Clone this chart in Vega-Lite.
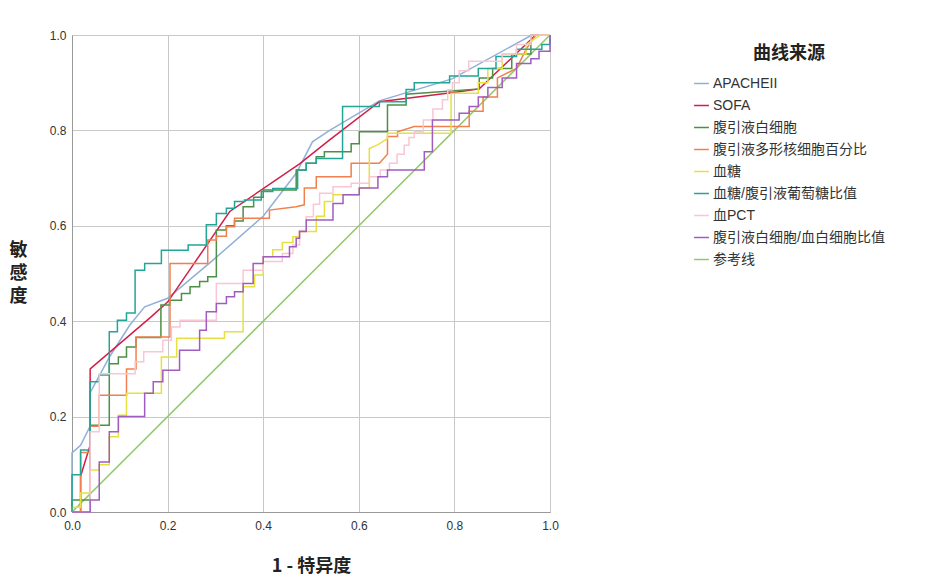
{
  "$schema": "https://vega.github.io/schema/vega-lite/v6.json",
  "width": 478,
  "height": 477,
  "autosize": {"type": "none"},
  "padding": {"left": 72, "top": 35, "right": 377, "bottom": 72},
  "background": "white",
  "config": {"view": {"stroke": "#b4b4b4"}, "font": "Liberation Sans"},
  "data": {
    "values": [
      {"s": "参考线", "x": 0, "y": 0}, {"s": "参考线", "x": 1, "y": 1},

      {"s": "APACHEII", "x": 0, "y": 0}, {"s": "APACHEII", "x": 0, "y": 0.124}, {"s": "APACHEII", "x": 0.018, "y": 0.14},
      {"s": "APACHEII", "x": 0.038, "y": 0.18}, {"s": "APACHEII", "x": 0.038, "y": 0.25}, {"s": "APACHEII", "x": 0.079, "y": 0.326},
      {"s": "APACHEII", "x": 0.121, "y": 0.392}, {"s": "APACHEII", "x": 0.152, "y": 0.43}, {"s": "APACHEII", "x": 0.2, "y": 0.448},
      {"s": "APACHEII", "x": 0.295, "y": 0.528}, {"s": "APACHEII", "x": 0.4, "y": 0.62}, {"s": "APACHEII", "x": 0.469, "y": 0.71},
      {"s": "APACHEII", "x": 0.503, "y": 0.776}, {"s": "APACHEII", "x": 0.539, "y": 0.8}, {"s": "APACHEII", "x": 0.643, "y": 0.862},
      {"s": "APACHEII", "x": 0.795, "y": 0.908}, {"s": "APACHEII", "x": 0.962, "y": 1}, {"s": "APACHEII", "x": 1, "y": 1},

      {"s": "SOFA", "x": 0, "y": 0}, {"s": "SOFA", "x": 0.018, "y": 0}, {"s": "SOFA", "x": 0.018, "y": 0.075},
      {"s": "SOFA", "x": 0.038, "y": 0.14}, {"s": "SOFA", "x": 0.038, "y": 0.3}, {"s": "SOFA", "x": 0.163, "y": 0.407},
      {"s": "SOFA", "x": 0.2, "y": 0.44}, {"s": "SOFA", "x": 0.33, "y": 0.63}, {"s": "SOFA", "x": 0.476, "y": 0.73},
      {"s": "SOFA", "x": 0.539, "y": 0.78}, {"s": "SOFA", "x": 0.643, "y": 0.86}, {"s": "SOFA", "x": 0.81, "y": 0.881},
      {"s": "SOFA", "x": 0.852, "y": 0.887}, {"s": "SOFA", "x": 0.97, "y": 1}, {"s": "SOFA", "x": 1, "y": 1},

      {"s": "腹引液白细胞", "x": 0, "y": 0}, {"s": "腹引液白细胞", "x": 0, "y": 0.025}, {"s": "腹引液白细胞", "x": 0.038, "y": 0.025},
      {"s": "腹引液白细胞", "x": 0.038, "y": 0.182}, {"s": "腹引液白细胞", "x": 0.078, "y": 0.182}, {"s": "腹引液白细胞", "x": 0.078, "y": 0.311},
      {"s": "腹引液白细胞", "x": 0.097, "y": 0.311}, {"s": "腹引液白细胞", "x": 0.097, "y": 0.325}, {"s": "腹引液白细胞", "x": 0.114, "y": 0.325},
      {"s": "腹引液白细胞", "x": 0.114, "y": 0.346}, {"s": "腹引液白细胞", "x": 0.134, "y": 0.346}, {"s": "腹引液白细胞", "x": 0.134, "y": 0.366},
      {"s": "腹引液白细胞", "x": 0.186, "y": 0.366}, {"s": "腹引液白细胞", "x": 0.186, "y": 0.434}, {"s": "腹引液白细胞", "x": 0.205, "y": 0.434},
      {"s": "腹引液白细胞", "x": 0.205, "y": 0.444}, {"s": "腹引液白细胞", "x": 0.229, "y": 0.444}, {"s": "腹引液白细胞", "x": 0.229, "y": 0.458},
      {"s": "腹引液白细胞", "x": 0.247, "y": 0.458}, {"s": "腹引液白细胞", "x": 0.247, "y": 0.472}, {"s": "腹引液白细胞", "x": 0.267, "y": 0.472},
      {"s": "腹引液白细胞", "x": 0.267, "y": 0.483}, {"s": "腹引液白细胞", "x": 0.284, "y": 0.483}, {"s": "腹引液白细胞", "x": 0.284, "y": 0.493},
      {"s": "腹引液白细胞", "x": 0.302, "y": 0.493}, {"s": "腹引液白细胞", "x": 0.302, "y": 0.591}, {"s": "腹引液白细胞", "x": 0.323, "y": 0.591},
      {"s": "腹引液白细胞", "x": 0.323, "y": 0.6}, {"s": "腹引液白细胞", "x": 0.34, "y": 0.6}, {"s": "腹引液白细胞", "x": 0.34, "y": 0.61},
      {"s": "腹引液白细胞", "x": 0.358, "y": 0.61}, {"s": "腹引液白细胞", "x": 0.358, "y": 0.64}, {"s": "腹引液白细胞", "x": 0.38, "y": 0.64},
      {"s": "腹引液白细胞", "x": 0.38, "y": 0.66}, {"s": "腹引液白细胞", "x": 0.4, "y": 0.66}, {"s": "腹引液白细胞", "x": 0.4, "y": 0.675},
      {"s": "腹引液白细胞", "x": 0.469, "y": 0.675}, {"s": "腹引液白细胞", "x": 0.469, "y": 0.717}, {"s": "腹引液白细胞", "x": 0.49, "y": 0.717},
      {"s": "腹引液白细胞", "x": 0.49, "y": 0.731}, {"s": "腹引液白细胞", "x": 0.511, "y": 0.731}, {"s": "腹引液白细胞", "x": 0.511, "y": 0.745},
      {"s": "腹引液白细胞", "x": 0.528, "y": 0.745}, {"s": "腹引液白细胞", "x": 0.528, "y": 0.755}, {"s": "腹引液白细胞", "x": 0.584, "y": 0.755},
      {"s": "腹引液白细胞", "x": 0.584, "y": 0.772}, {"s": "腹引液白细胞", "x": 0.601, "y": 0.772}, {"s": "腹引液白细胞", "x": 0.601, "y": 0.797},
      {"s": "腹引液白细胞", "x": 0.66, "y": 0.797}, {"s": "腹引液白细胞", "x": 0.66, "y": 0.853}, {"s": "腹引液白细胞", "x": 0.699, "y": 0.853},
      {"s": "腹引液白细胞", "x": 0.699, "y": 0.876}, {"s": "腹引液白细胞", "x": 0.852, "y": 0.887}, {"s": "腹引液白细胞", "x": 0.852, "y": 0.91},
      {"s": "腹引液白细胞", "x": 0.88, "y": 0.91}, {"s": "腹引液白细胞", "x": 0.88, "y": 0.93}, {"s": "腹引液白细胞", "x": 0.92, "y": 0.93},
      {"s": "腹引液白细胞", "x": 0.92, "y": 0.96}, {"s": "腹引液白细胞", "x": 0.96, "y": 0.96}, {"s": "腹引液白细胞", "x": 0.96, "y": 1},
      {"s": "腹引液白细胞", "x": 1, "y": 1},

      {"s": "腹引液多形核细胞百分比", "x": 0, "y": 0}, {"s": "腹引液多形核细胞百分比", "x": 0.018, "y": 0}, {"s": "腹引液多形核细胞百分比", "x": 0.018, "y": 0.125},
      {"s": "腹引液多形核细胞百分比", "x": 0.038, "y": 0.125}, {"s": "腹引液多形核细胞百分比", "x": 0.038, "y": 0.18}, {"s": "腹引液多形核细胞百分比", "x": 0.057, "y": 0.18},
      {"s": "腹引液多形核细胞百分比", "x": 0.057, "y": 0.245}, {"s": "腹引液多形核细胞百分比", "x": 0.114, "y": 0.245}, {"s": "腹引液多形核细胞百分比", "x": 0.114, "y": 0.3},
      {"s": "腹引液多形核细胞百分比", "x": 0.134, "y": 0.3}, {"s": "腹引液多形核细胞百分比", "x": 0.134, "y": 0.367}, {"s": "腹引液多形核细胞百分比", "x": 0.205, "y": 0.367},
      {"s": "腹引液多形核细胞百分比", "x": 0.205, "y": 0.521}, {"s": "腹引液多形核细胞百分比", "x": 0.284, "y": 0.521}, {"s": "腹引液多形核细胞百分比", "x": 0.284, "y": 0.57},
      {"s": "腹引液多形核细胞百分比", "x": 0.302, "y": 0.57}, {"s": "腹引液多形核细胞百分比", "x": 0.302, "y": 0.578}, {"s": "腹引液多形核细胞百分比", "x": 0.323, "y": 0.578},
      {"s": "腹引液多形核细胞百分比", "x": 0.323, "y": 0.598}, {"s": "腹引液多形核细胞百分比", "x": 0.34, "y": 0.598}, {"s": "腹引液多形核细胞百分比", "x": 0.34, "y": 0.616},
      {"s": "腹引液多形核细胞百分比", "x": 0.413, "y": 0.616}, {"s": "腹引液多形核细胞百分比", "x": 0.413, "y": 0.633}, {"s": "腹引液多形核细胞百分比", "x": 0.469, "y": 0.64},
      {"s": "腹引液多形核细胞百分比", "x": 0.486, "y": 0.644}, {"s": "腹引液多形核细胞百分比", "x": 0.486, "y": 0.679}, {"s": "腹引液多形核细胞百分比", "x": 0.511, "y": 0.679},
      {"s": "腹引液多形核细胞百分比", "x": 0.511, "y": 0.703}, {"s": "腹引液多形核细胞百分比", "x": 0.584, "y": 0.703}, {"s": "腹引液多形核细胞百分比", "x": 0.584, "y": 0.731},
      {"s": "腹引液多形核细胞百分比", "x": 0.643, "y": 0.731}, {"s": "腹引液多形核细胞百分比", "x": 0.66, "y": 0.75}, {"s": "腹引液多形核细胞百分比", "x": 0.66, "y": 0.787},
      {"s": "腹引液多形核细胞百分比", "x": 0.681, "y": 0.787}, {"s": "腹引液多形核细胞百分比", "x": 0.681, "y": 0.797}, {"s": "腹引液多形核细胞百分比", "x": 0.716, "y": 0.808},
      {"s": "腹引液多形核细胞百分比", "x": 0.831, "y": 0.808}, {"s": "腹引液多形核细胞百分比", "x": 0.831, "y": 0.84}, {"s": "腹引液多形核细胞百分比", "x": 0.86, "y": 0.84},
      {"s": "腹引液多形核细胞百分比", "x": 0.86, "y": 0.87}, {"s": "腹引液多形核细胞百分比", "x": 0.89, "y": 0.87}, {"s": "腹引液多形核细胞百分比", "x": 0.89, "y": 0.91},
      {"s": "腹引液多形核细胞百分比", "x": 0.93, "y": 0.93}, {"s": "腹引液多形核细胞百分比", "x": 0.95, "y": 0.97}, {"s": "腹引液多形核细胞百分比", "x": 0.97, "y": 1},
      {"s": "腹引液多形核细胞百分比", "x": 1, "y": 1},

      {"s": "血糖", "x": 0, "y": 0}, {"s": "血糖", "x": 0, "y": 0.01}, {"s": "血糖", "x": 0.018, "y": 0.01},
      {"s": "血糖", "x": 0.018, "y": 0.04}, {"s": "血糖", "x": 0.038, "y": 0.04}, {"s": "血糖", "x": 0.038, "y": 0.088},
      {"s": "血糖", "x": 0.057, "y": 0.088}, {"s": "血糖", "x": 0.057, "y": 0.099}, {"s": "血糖", "x": 0.078, "y": 0.099},
      {"s": "血糖", "x": 0.078, "y": 0.158}, {"s": "血糖", "x": 0.097, "y": 0.158}, {"s": "血糖", "x": 0.097, "y": 0.203},
      {"s": "血糖", "x": 0.114, "y": 0.203}, {"s": "血糖", "x": 0.114, "y": 0.249}, {"s": "血糖", "x": 0.187, "y": 0.249},
      {"s": "血糖", "x": 0.187, "y": 0.325}, {"s": "血糖", "x": 0.219, "y": 0.325}, {"s": "血糖", "x": 0.219, "y": 0.364},
      {"s": "血糖", "x": 0.319, "y": 0.364}, {"s": "血糖", "x": 0.319, "y": 0.378}, {"s": "血糖", "x": 0.358, "y": 0.378},
      {"s": "血糖", "x": 0.358, "y": 0.472}, {"s": "血糖", "x": 0.382, "y": 0.472}, {"s": "血糖", "x": 0.382, "y": 0.497},
      {"s": "血糖", "x": 0.4, "y": 0.497}, {"s": "血糖", "x": 0.4, "y": 0.535}, {"s": "血糖", "x": 0.42, "y": 0.535},
      {"s": "血糖", "x": 0.42, "y": 0.55}, {"s": "血糖", "x": 0.44, "y": 0.55}, {"s": "血糖", "x": 0.44, "y": 0.565},
      {"s": "血糖", "x": 0.462, "y": 0.565}, {"s": "血糖", "x": 0.462, "y": 0.577}, {"s": "血糖", "x": 0.476, "y": 0.577},
      {"s": "血糖", "x": 0.476, "y": 0.588}, {"s": "血糖", "x": 0.511, "y": 0.588}, {"s": "血糖", "x": 0.511, "y": 0.62},
      {"s": "血糖", "x": 0.528, "y": 0.62}, {"s": "血糖", "x": 0.528, "y": 0.651}, {"s": "血糖", "x": 0.546, "y": 0.651},
      {"s": "血糖", "x": 0.546, "y": 0.665}, {"s": "血糖", "x": 0.601, "y": 0.665}, {"s": "血糖", "x": 0.601, "y": 0.679},
      {"s": "血糖", "x": 0.622, "y": 0.679}, {"s": "血糖", "x": 0.622, "y": 0.762}, {"s": "血糖", "x": 0.64, "y": 0.77},
      {"s": "血糖", "x": 0.66, "y": 0.783}, {"s": "血糖", "x": 0.66, "y": 0.794}, {"s": "血糖", "x": 0.793, "y": 0.794},
      {"s": "血糖", "x": 0.793, "y": 0.878}, {"s": "血糖", "x": 0.85, "y": 0.878}, {"s": "血糖", "x": 0.85, "y": 0.9},
      {"s": "血糖", "x": 0.87, "y": 0.9}, {"s": "血糖", "x": 0.87, "y": 0.93}, {"s": "血糖", "x": 0.9, "y": 0.93},
      {"s": "血糖", "x": 0.9, "y": 0.96}, {"s": "血糖", "x": 0.95, "y": 0.96}, {"s": "血糖", "x": 0.95, "y": 0.98},
      {"s": "血糖", "x": 0.98, "y": 1}, {"s": "血糖", "x": 1, "y": 1},

      {"s": "血糖/腹引液葡萄糖比值", "x": 0, "y": 0}, {"s": "血糖/腹引液葡萄糖比值", "x": 0, "y": 0.078}, {"s": "血糖/腹引液葡萄糖比值", "x": 0.018, "y": 0.078},
      {"s": "血糖/腹引液葡萄糖比值", "x": 0.018, "y": 0.13}, {"s": "血糖/腹引液葡萄糖比值", "x": 0.038, "y": 0.13}, {"s": "血糖/腹引液葡萄糖比值", "x": 0.038, "y": 0.273},
      {"s": "血糖/腹引液葡萄糖比值", "x": 0.057, "y": 0.273}, {"s": "血糖/腹引液葡萄糖比值", "x": 0.057, "y": 0.287}, {"s": "血糖/腹引液葡萄糖比值", "x": 0.078, "y": 0.287},
      {"s": "血糖/腹引液葡萄糖比值", "x": 0.078, "y": 0.378}, {"s": "血糖/腹引液葡萄糖比值", "x": 0.095, "y": 0.378}, {"s": "血糖/腹引液葡萄糖比值", "x": 0.095, "y": 0.402},
      {"s": "血糖/腹引液葡萄糖比值", "x": 0.114, "y": 0.402}, {"s": "血糖/腹引液葡萄糖比值", "x": 0.114, "y": 0.417}, {"s": "血糖/腹引液葡萄糖比值", "x": 0.132, "y": 0.417},
      {"s": "血糖/腹引液葡萄糖比值", "x": 0.132, "y": 0.507}, {"s": "血糖/腹引液葡萄糖比值", "x": 0.152, "y": 0.507}, {"s": "血糖/腹引液葡萄糖比值", "x": 0.152, "y": 0.521},
      {"s": "血糖/腹引液葡萄糖比值", "x": 0.187, "y": 0.521}, {"s": "血糖/腹引液葡萄糖比值", "x": 0.187, "y": 0.549}, {"s": "血糖/腹引液葡萄糖比值", "x": 0.243, "y": 0.549},
      {"s": "血糖/腹引液葡萄糖比值", "x": 0.243, "y": 0.56}, {"s": "血糖/腹引液葡萄糖比值", "x": 0.281, "y": 0.56}, {"s": "血糖/腹引液葡萄糖比值", "x": 0.281, "y": 0.602},
      {"s": "血糖/腹引液葡萄糖比值", "x": 0.302, "y": 0.602}, {"s": "血糖/腹引液葡萄糖比值", "x": 0.302, "y": 0.626}, {"s": "血糖/腹引液葡萄糖比值", "x": 0.323, "y": 0.626},
      {"s": "血糖/腹引液葡萄糖比值", "x": 0.323, "y": 0.637}, {"s": "血糖/腹引液葡萄糖比值", "x": 0.34, "y": 0.637}, {"s": "血糖/腹引液葡萄糖比值", "x": 0.34, "y": 0.651},
      {"s": "血糖/腹引液葡萄糖比值", "x": 0.361, "y": 0.651}, {"s": "血糖/腹引液葡萄糖比值", "x": 0.361, "y": 0.654}, {"s": "血糖/腹引液葡萄糖比值", "x": 0.396, "y": 0.654},
      {"s": "血糖/腹引液葡萄糖比值", "x": 0.396, "y": 0.672}, {"s": "血糖/腹引液葡萄糖比值", "x": 0.42, "y": 0.672}, {"s": "血糖/腹引液葡萄糖比值", "x": 0.42, "y": 0.678},
      {"s": "血糖/腹引液葡萄糖比值", "x": 0.472, "y": 0.678}, {"s": "血糖/腹引液葡萄糖比值", "x": 0.472, "y": 0.717}, {"s": "血糖/腹引液葡萄糖比值", "x": 0.49, "y": 0.717},
      {"s": "血糖/腹引液葡萄糖比值", "x": 0.49, "y": 0.731}, {"s": "血糖/腹引液葡萄糖比值", "x": 0.511, "y": 0.731}, {"s": "血糖/腹引液葡萄糖比值", "x": 0.511, "y": 0.741},
      {"s": "血糖/腹引液葡萄糖比值", "x": 0.566, "y": 0.741}, {"s": "血糖/腹引液葡萄糖比值", "x": 0.566, "y": 0.85}, {"s": "血糖/腹引液葡萄糖比值", "x": 0.643, "y": 0.85},
      {"s": "血糖/腹引液葡萄糖比值", "x": 0.643, "y": 0.86}, {"s": "血糖/腹引液葡萄糖比值", "x": 0.699, "y": 0.86}, {"s": "血糖/腹引液葡萄糖比值", "x": 0.699, "y": 0.886},
      {"s": "血糖/腹引液葡萄糖比值", "x": 0.716, "y": 0.886}, {"s": "血糖/腹引液葡萄糖比值", "x": 0.716, "y": 0.9}, {"s": "血糖/腹引液葡萄糖比值", "x": 0.79, "y": 0.9},
      {"s": "血糖/腹引液葡萄糖比值", "x": 0.79, "y": 0.914}, {"s": "血糖/腹引液葡萄糖比值", "x": 0.85, "y": 0.914}, {"s": "血糖/腹引液葡萄糖比值", "x": 0.85, "y": 0.93},
      {"s": "血糖/腹引液葡萄糖比值", "x": 0.887, "y": 0.93}, {"s": "血糖/腹引液葡萄糖比值", "x": 0.887, "y": 0.955}, {"s": "血糖/腹引液葡萄糖比值", "x": 0.93, "y": 0.955},
      {"s": "血糖/腹引液葡萄糖比值", "x": 0.93, "y": 0.97}, {"s": "血糖/腹引液葡萄糖比值", "x": 0.983, "y": 0.97}, {"s": "血糖/腹引液葡萄糖比值", "x": 0.983, "y": 0.98},
      {"s": "血糖/腹引液葡萄糖比值", "x": 1, "y": 0.98}, {"s": "血糖/腹引液葡萄糖比值", "x": 1, "y": 1},

      {"s": "血PCT", "x": 0, "y": 0}, {"s": "血PCT", "x": 0.038, "y": 0}, {"s": "血PCT", "x": 0.038, "y": 0.168},
      {"s": "血PCT", "x": 0.057, "y": 0.168}, {"s": "血PCT", "x": 0.057, "y": 0.29}, {"s": "血PCT", "x": 0.132, "y": 0.29},
      {"s": "血PCT", "x": 0.132, "y": 0.315}, {"s": "血PCT", "x": 0.15, "y": 0.315}, {"s": "血PCT", "x": 0.15, "y": 0.336},
      {"s": "血PCT", "x": 0.19, "y": 0.336}, {"s": "血PCT", "x": 0.19, "y": 0.36}, {"s": "血PCT", "x": 0.208, "y": 0.36},
      {"s": "血PCT", "x": 0.208, "y": 0.388}, {"s": "血PCT", "x": 0.226, "y": 0.388}, {"s": "血PCT", "x": 0.226, "y": 0.402},
      {"s": "血PCT", "x": 0.302, "y": 0.402}, {"s": "血PCT", "x": 0.302, "y": 0.479}, {"s": "血PCT", "x": 0.358, "y": 0.479},
      {"s": "血PCT", "x": 0.358, "y": 0.507}, {"s": "血PCT", "x": 0.4, "y": 0.507}, {"s": "血PCT", "x": 0.4, "y": 0.525},
      {"s": "血PCT", "x": 0.44, "y": 0.525}, {"s": "血PCT", "x": 0.44, "y": 0.542}, {"s": "血PCT", "x": 0.462, "y": 0.542},
      {"s": "血PCT", "x": 0.462, "y": 0.56}, {"s": "血PCT", "x": 0.476, "y": 0.56}, {"s": "血PCT", "x": 0.476, "y": 0.59},
      {"s": "血PCT", "x": 0.49, "y": 0.59}, {"s": "血PCT", "x": 0.49, "y": 0.619}, {"s": "血PCT", "x": 0.505, "y": 0.619},
      {"s": "血PCT", "x": 0.505, "y": 0.645}, {"s": "血PCT", "x": 0.518, "y": 0.645}, {"s": "血PCT", "x": 0.518, "y": 0.668},
      {"s": "血PCT", "x": 0.546, "y": 0.668}, {"s": "血PCT", "x": 0.546, "y": 0.682}, {"s": "血PCT", "x": 0.584, "y": 0.682},
      {"s": "血PCT", "x": 0.584, "y": 0.689}, {"s": "血PCT", "x": 0.622, "y": 0.689}, {"s": "血PCT", "x": 0.622, "y": 0.703},
      {"s": "血PCT", "x": 0.645, "y": 0.703}, {"s": "血PCT", "x": 0.645, "y": 0.717}, {"s": "血PCT", "x": 0.664, "y": 0.717},
      {"s": "血PCT", "x": 0.664, "y": 0.731}, {"s": "血PCT", "x": 0.68, "y": 0.731}, {"s": "血PCT", "x": 0.68, "y": 0.75},
      {"s": "血PCT", "x": 0.695, "y": 0.75}, {"s": "血PCT", "x": 0.695, "y": 0.769}, {"s": "血PCT", "x": 0.705, "y": 0.769},
      {"s": "血PCT", "x": 0.705, "y": 0.785}, {"s": "血PCT", "x": 0.716, "y": 0.785}, {"s": "血PCT", "x": 0.716, "y": 0.797},
      {"s": "血PCT", "x": 0.735, "y": 0.797}, {"s": "血PCT", "x": 0.735, "y": 0.822}, {"s": "血PCT", "x": 0.755, "y": 0.822},
      {"s": "血PCT", "x": 0.755, "y": 0.845}, {"s": "血PCT", "x": 0.775, "y": 0.845}, {"s": "血PCT", "x": 0.775, "y": 0.864},
      {"s": "血PCT", "x": 0.786, "y": 0.864}, {"s": "血PCT", "x": 0.786, "y": 0.885}, {"s": "血PCT", "x": 0.796, "y": 0.885},
      {"s": "血PCT", "x": 0.796, "y": 0.9}, {"s": "血PCT", "x": 0.81, "y": 0.9}, {"s": "血PCT", "x": 0.81, "y": 0.925},
      {"s": "血PCT", "x": 0.83, "y": 0.925}, {"s": "血PCT", "x": 0.83, "y": 0.945}, {"s": "血PCT", "x": 0.9, "y": 0.945},
      {"s": "血PCT", "x": 0.9, "y": 0.96}, {"s": "血PCT", "x": 0.93, "y": 0.96}, {"s": "血PCT", "x": 0.93, "y": 0.98},
      {"s": "血PCT", "x": 0.96, "y": 0.98}, {"s": "血PCT", "x": 0.96, "y": 1}, {"s": "血PCT", "x": 1, "y": 1},

      {"s": "腹引液白细胞/血白细胞比值", "x": 0, "y": 0}, {"s": "腹引液白细胞/血白细胞比值", "x": 0.038, "y": 0}, {"s": "腹引液白细胞/血白细胞比值", "x": 0.038, "y": 0.025},
      {"s": "腹引液白细胞/血白细胞比值", "x": 0.057, "y": 0.025}, {"s": "腹引液白细胞/血白细胞比值", "x": 0.057, "y": 0.105}, {"s": "腹引液白细胞/血白细胞比值", "x": 0.078, "y": 0.105},
      {"s": "腹引液白细胞/血白细胞比值", "x": 0.078, "y": 0.168}, {"s": "腹引液白细胞/血白细胞比值", "x": 0.097, "y": 0.168}, {"s": "腹引液白细胞/血白细胞比值", "x": 0.097, "y": 0.2},
      {"s": "腹引液白细胞/血白细胞比值", "x": 0.152, "y": 0.2}, {"s": "腹引液白细胞/血白细胞比值", "x": 0.152, "y": 0.249}, {"s": "腹引液白细胞/血白细胞比值", "x": 0.17, "y": 0.249},
      {"s": "腹引液白细胞/血白细胞比值", "x": 0.17, "y": 0.273}, {"s": "腹引液白细胞/血白细胞比值", "x": 0.19, "y": 0.273}, {"s": "腹引液白细胞/血白细胞比值", "x": 0.19, "y": 0.297},
      {"s": "腹引液白细胞/血白细胞比值", "x": 0.225, "y": 0.297}, {"s": "腹引液白细胞/血白细胞比值", "x": 0.225, "y": 0.339}, {"s": "腹引液白细胞/血白细胞比值", "x": 0.267, "y": 0.339},
      {"s": "腹引液白细胞/血白细胞比值", "x": 0.267, "y": 0.381}, {"s": "腹引液白细胞/血白细胞比值", "x": 0.281, "y": 0.381}, {"s": "腹引液白细胞/血白细胞比值", "x": 0.281, "y": 0.42},
      {"s": "腹引液白细胞/血白细胞比值", "x": 0.302, "y": 0.42}, {"s": "腹引液白细胞/血白细胞比值", "x": 0.302, "y": 0.437}, {"s": "腹引液白细胞/血白细胞比值", "x": 0.323, "y": 0.437},
      {"s": "腹引液白细胞/血白细胞比值", "x": 0.323, "y": 0.451}, {"s": "腹引液白细胞/血白细胞比值", "x": 0.34, "y": 0.451}, {"s": "腹引液白细胞/血白细胞比值", "x": 0.34, "y": 0.462},
      {"s": "腹引液白细胞/血白细胞比值", "x": 0.358, "y": 0.462}, {"s": "腹引液白细胞/血白细胞比值", "x": 0.358, "y": 0.479}, {"s": "腹引液白细胞/血白细胞比值", "x": 0.379, "y": 0.479},
      {"s": "腹引液白细胞/血白细胞比值", "x": 0.379, "y": 0.521}, {"s": "腹引液白细胞/血白细胞比值", "x": 0.4, "y": 0.521}, {"s": "腹引液白细胞/血白细胞比值", "x": 0.4, "y": 0.535},
      {"s": "腹引液白细胞/血白细胞比值", "x": 0.455, "y": 0.535}, {"s": "腹引液白细胞/血白细胞比值", "x": 0.455, "y": 0.556}, {"s": "腹引液白细胞/血白细胞比值", "x": 0.469, "y": 0.556},
      {"s": "腹引液白细胞/血白细胞比值", "x": 0.469, "y": 0.574}, {"s": "腹引液白细胞/血白细胞比值", "x": 0.476, "y": 0.574}, {"s": "腹引液白细胞/血白细胞比值", "x": 0.476, "y": 0.588},
      {"s": "腹引液白细胞/血白细胞比值", "x": 0.49, "y": 0.588}, {"s": "腹引液白细胞/血白细胞比值", "x": 0.49, "y": 0.612}, {"s": "腹引液白细胞/血白细胞比值", "x": 0.546, "y": 0.612},
      {"s": "腹引液白细胞/血白细胞比值", "x": 0.546, "y": 0.647}, {"s": "腹引液白细胞/血白细胞比值", "x": 0.567, "y": 0.647}, {"s": "腹引液白细胞/血白细胞比值", "x": 0.567, "y": 0.665},
      {"s": "腹引液白细胞/血白细胞比值", "x": 0.601, "y": 0.665}, {"s": "腹引液白细胞/血白细胞比值", "x": 0.601, "y": 0.679}, {"s": "腹引液白细胞/血白细胞比值", "x": 0.64, "y": 0.679},
      {"s": "腹引液白细胞/血白细胞比值", "x": 0.64, "y": 0.703}, {"s": "腹引液白细胞/血白细胞比值", "x": 0.66, "y": 0.703}, {"s": "腹引液白细胞/血白细胞比值", "x": 0.66, "y": 0.717},
      {"s": "腹引液白细胞/血白细胞比值", "x": 0.737, "y": 0.717}, {"s": "腹引液白细胞/血白细胞比值", "x": 0.737, "y": 0.755}, {"s": "腹引液白细胞/血白细胞比值", "x": 0.754, "y": 0.755},
      {"s": "腹引液白细胞/血白细胞比值", "x": 0.754, "y": 0.822}, {"s": "腹引液白细胞/血白细胞比值", "x": 0.81, "y": 0.822}, {"s": "腹引液白细胞/血白细胞比值", "x": 0.81, "y": 0.836},
      {"s": "腹引液白细胞/血白细胞比值", "x": 0.831, "y": 0.836}, {"s": "腹引液白细胞/血白细胞比值", "x": 0.831, "y": 0.85}, {"s": "腹引液白细胞/血白细胞比值", "x": 0.85, "y": 0.85},
      {"s": "腹引液白细胞/血白细胞比值", "x": 0.85, "y": 0.87}, {"s": "腹引液白细胞/血白细胞比值", "x": 0.87, "y": 0.87}, {"s": "腹引液白细胞/血白细胞比值", "x": 0.87, "y": 0.89},
      {"s": "腹引液白细胞/血白细胞比值", "x": 0.9, "y": 0.89}, {"s": "腹引液白细胞/血白细胞比值", "x": 0.9, "y": 0.91}, {"s": "腹引液白细胞/血白细胞比值", "x": 0.93, "y": 0.91},
      {"s": "腹引液白细胞/血白细胞比值", "x": 0.93, "y": 0.94}, {"s": "腹引液白细胞/血白细胞比值", "x": 0.96, "y": 0.94}, {"s": "腹引液白细胞/血白细胞比值", "x": 0.96, "y": 0.95},
      {"s": "腹引液白细胞/血白细胞比值", "x": 0.977, "y": 0.95}, {"s": "腹引液白细胞/血白细胞比值", "x": 0.977, "y": 0.966}, {"s": "腹引液白细胞/血白细胞比值", "x": 1, "y": 0.966},
      {"s": "腹引液白细胞/血白细胞比值", "x": 1, "y": 1}
    ]
  },
  "mark": {"type": "line", "strokeWidth": 1.5},
  "encoding": {
    "x": {
      "field": "x",
      "type": "quantitative",
      "scale": {"domain": [0, 1], "nice": false},
      "axis": {
        "title": "1 - 特异度",
        "values": [0, 0.2, 0.4, 0.6, 0.8, 1],
        "format": ".1f",
        "grid": true,
        "gridColor": "#c8c8c8",
        "domainColor": "#999999",
        "ticks": false,
        "labelFlush": false,
        "labelOverlap": false,
        "labelPadding": 8,
        "labelFontSize": 12,
        "labelColor": "#333333",
        "titleFont": "Noto Sans CJK SC",
        "titleFontSize": 18,
        "titleFontWeight": "bold",
        "titleColor": "#222222",
        "titleBaseline": "middle",
        "titleY": 54
      }
    },
    "y": {
      "field": "y",
      "type": "quantitative",
      "scale": {"domain": [0, 1], "nice": false},
      "axis": {
        "title": ["敏", "感", "度"],
        "values": [0, 0.2, 0.4, 0.6, 0.8, 1],
        "format": ".1f",
        "grid": true,
        "gridColor": "#c8c8c8",
        "domainColor": "#999999",
        "ticks": false,
        "labelFlush": false,
        "labelOverlap": false,
        "labelPadding": 6,
        "labelFontSize": 12,
        "labelColor": "#333333",
        "titleFont": "Noto Sans CJK SC",
        "titleFontSize": 18,
        "titleFontWeight": "bold",
        "titleColor": "#222222",
        "titleAngle": 0,
        "titleAlign": "center",
        "titleBaseline": "middle",
        "titleLineHeight": 23,
        "titleX": -54,
        "titleY": 215
      }
    },
    "color": {
      "field": "s",
      "type": "nominal",
      "scale": {
        "domain": ["APACHEII", "SOFA", "腹引液白细胞", "腹引液多形核细胞百分比", "血糖", "血糖/腹引液葡萄糖比值", "血PCT", "腹引液白细胞/血白细胞比值", "参考线"],
        "range": ["#8fb0d8", "#d21f48", "#4d8f46", "#f2804e", "#e6e040", "#23a596", "#f9c6d6", "#a05cc0", "#92c86a"]
      },
      "legend": {
        "orient": "none",
        "legendX": 621,
        "legendY": 10,
        "title": "曲线来源",
        "titleFont": "Noto Sans CJK SC",
        "titleFontSize": 18,
        "titleFontWeight": "bold",
        "titleColor": "#222222",
        "titleAnchor": "middle",
        "titlePadding": 12,
        "labelFont": "Liberation Sans, Noto Sans CJK SC",
        "labelFontSize": 14,
        "labelColor": "#333333",
        "labelLimit": 300,
        "labelOffset": 3,
        "symbolType": "stroke",
        "symbolSize": 220,
        "symbolStrokeWidth": 1.5,
        "rowPadding": 6
      }
    },
    "order": [
      {"field": "x", "type": "quantitative"},
      {"field": "y", "type": "quantitative"}
    ]
  }
}
